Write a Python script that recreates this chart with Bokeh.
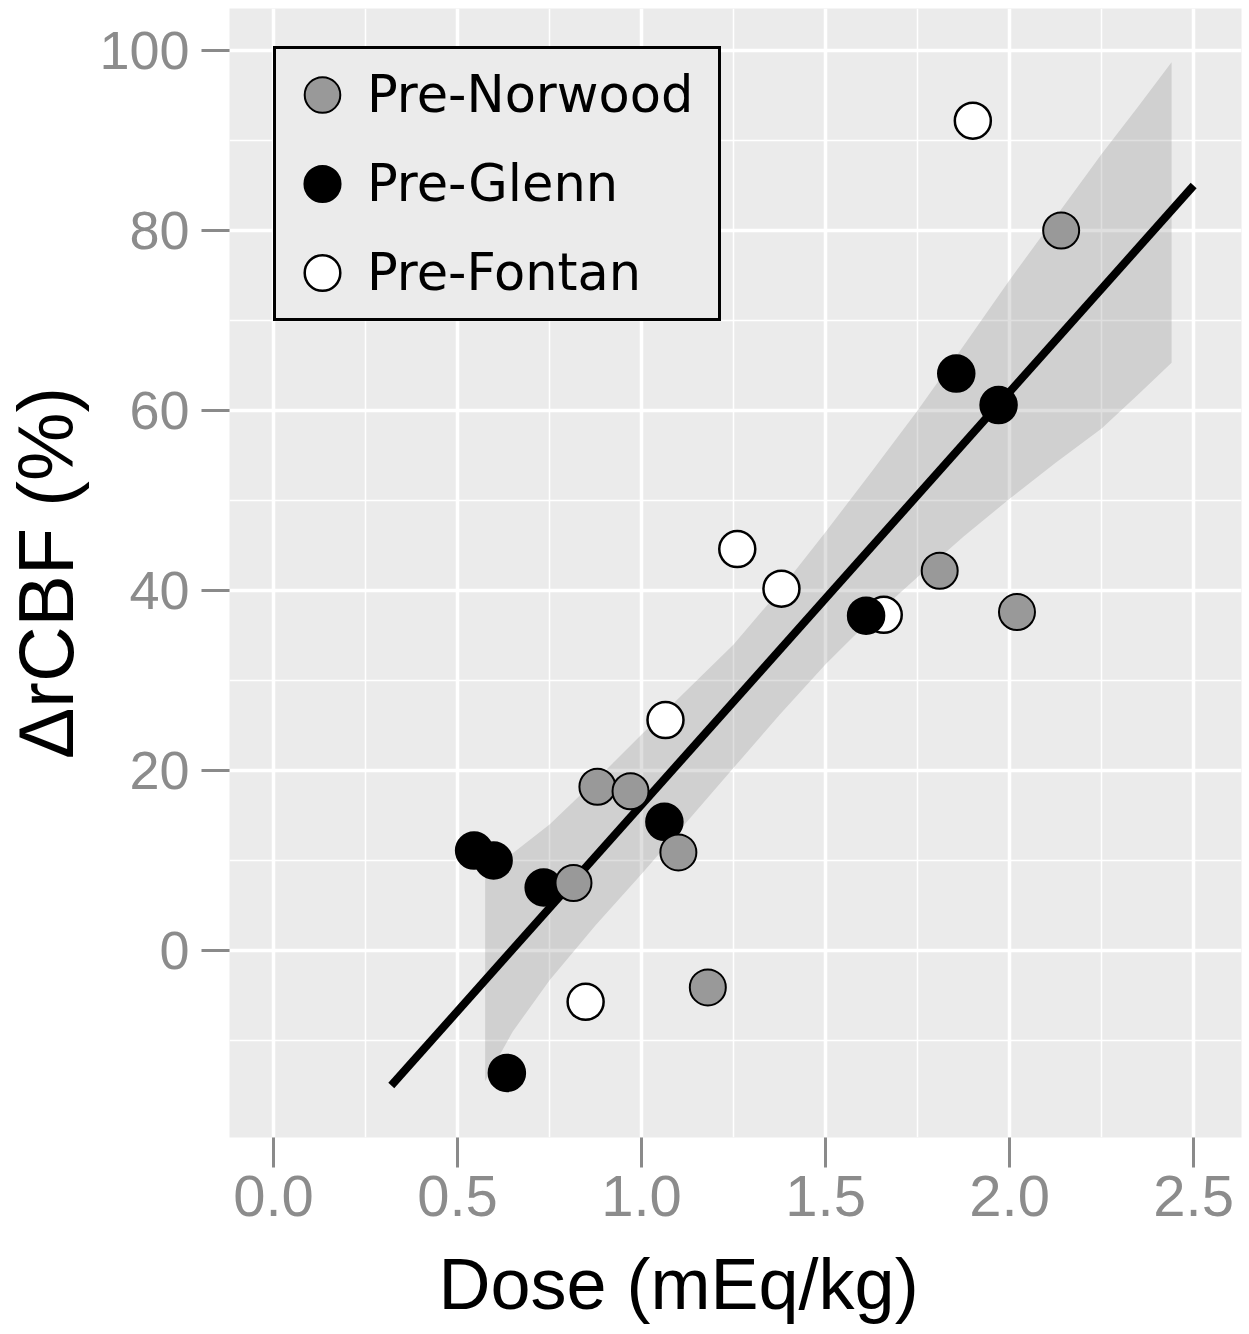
from bokeh.plotting import figure
from bokeh.models import Range1d, FixedTicker, Legend, LegendItem, Title, NumeralTickFormatter
from bokeh.embed import file_html
from bokeh.resources import INLINE

# ---- data ----
group_labels = ["Pre-Norwood", "Pre-Glenn", "Pre-Fontan"]

norwood_x = [2.14, 1.81, 2.02, 0.88, 0.97, 1.10, 0.815, 1.18]
norwood_y = [80.0, 42.2, 37.6, 18.2, 17.7, 10.9, 7.5, -4.1]

glenn_x = [1.855, 1.97, 1.61, 1.062, 0.545, 0.598, 0.734, 0.634]
glenn_y = [64.1, 60.6, 37.2, 14.3, 11.1, 10.0, 7.0, -13.6]

fontan_x = [1.90, 1.26, 1.38, 1.658, 1.065, 0.848]
fontan_y = [92.2, 44.6, 40.2, 37.3, 25.6, -5.7]

fit_x = [0.32, 2.50]
fit_y = [-15.0, 85.0]

band_x = [0.575, 0.65, 0.75, 0.875, 1.0, 1.125, 1.25, 1.375, 1.5,
          1.625, 1.75, 1.875, 2.0, 2.125, 2.25, 2.35, 2.44]
band_lower = [-14.5, -9.0, -3.3, 2.8, 8.5, 14.4, 20.3, 26.2, 31.8,
              36.9, 41.5, 46.0, 50.2, 54.2, 58.0, 61.8, 65.3]
band_upper = [8.5, 10.8, 14.0, 18.9, 24.0, 29.0, 34.0, 40.0, 46.5,
              53.2, 60.0, 67.2, 74.5, 81.5, 88.5, 93.8, 98.7]

x_ticks = [0.0, 0.5, 1.0, 1.5, 2.0, 2.5]
x_tick_labels = ["0.0", "0.5", "1.0", "1.5", "2.0", "2.5"]
x_minor = [0.25, 0.75, 1.25, 1.75, 2.25]
y_ticks = [0, 20, 40, 60, 80, 100]
y_tick_labels = ["0", "20", "40", "60", "80", "100"]
y_minor = [-10, 10, 30, 50, 70, 90]

x_title = "Dose (mEq/kg)"
y_title = "\u0394rCBF (%)"

# ---- figure ----
p = figure(frame_width=1012, frame_height=1129,
           x_range=Range1d(-0.1196, 2.630), y_range=Range1d(-20.78, 104.67),
           output_backend="svg", toolbar_location=None,
           min_border_left=228, min_border_right=9, min_border_top=8, min_border_bottom=197)
p.background_fill_color = "#EBEBEB"
p.border_fill_color = "white"
p.outline_line_color = None

xt = FixedTicker(ticks=x_ticks, minor_ticks=x_minor)
yt = FixedTicker(ticks=y_ticks, minor_ticks=y_minor)
p.xaxis.ticker = xt
p.yaxis.ticker = yt
p.xgrid.ticker = xt
p.ygrid.ticker = yt
p.xaxis.formatter = NumeralTickFormatter(format="0.0")
p.xaxis.major_label_overrides = dict(zip(x_ticks, x_tick_labels))
p.yaxis.major_label_overrides = dict(zip(y_ticks, y_tick_labels))

for g in (p.xgrid, p.ygrid):
    g.grid_line_color = "white"
    g.grid_line_width = 3.5
    g.minor_grid_line_color = "white"
    g.minor_grid_line_width = 1.5

p.axis.axis_line_color = None
p.axis.major_tick_line_color = "#8a8a8a"
p.axis.major_tick_line_width = 3
p.axis.major_tick_in = 0
p.xaxis.major_tick_out = 30
p.yaxis.major_tick_out = 28
p.axis.minor_tick_line_color = None
p.axis.major_label_text_font = "Liberation Sans"
p.xaxis.major_label_text_font_size = "58px"
p.yaxis.major_label_text_font_size = "54px"
p.axis.major_label_text_color = "#8c8c8c"
p.xaxis.major_label_standoff = 8
p.yaxis.major_label_standoff = 12

p.yaxis.axis_label = y_title
p.yaxis.axis_label_text_font = "Liberation Sans"
p.yaxis.axis_label_text_font_size = "77px"
p.yaxis.axis_label_text_font_style = "normal"
p.yaxis.axis_label_text_color = "black"
p.yaxis.axis_label_standoff = 7

xt_title = Title(text=x_title, align="left", offset=209, standoff=46,
                 text_font="Liberation Sans", text_font_size="72px",
                 text_font_style="normal", text_color="black")
p.add_layout(xt_title, "below")

# ---- glyphs ----
p.varea(x=band_x, y1=band_lower, y2=band_upper, fill_color="#808080", fill_alpha=0.25)
p.line(fit_x, fit_y, line_color="black", line_width=8, line_cap="butt")

r_f = p.scatter(fontan_x, fontan_y, size=36, fill_color="white", line_color="black", line_width=2.5)
r_g = p.scatter(glenn_x, glenn_y, size=36, fill_color="black", line_color="black", line_width=2.5)
r_n = p.scatter(norwood_x, norwood_y, size=36, fill_color="#999999", line_color="black", line_width=2)

legend = Legend(items=[LegendItem(label=group_labels[0], renderers=[r_n]),
                       LegendItem(label=group_labels[1], renderers=[r_g]),
                       LegendItem(label=group_labels[2], renderers=[r_f])],
                location=(44, 816), glyph_width=90, glyph_height=89,
                label_standoff=0, label_width=350, label_height=89,
                spacing=0, padding=1, margin=0,
                border_line_color="black", border_line_width=3, border_line_alpha=1.0,
                background_fill_color="#EBEBEB", background_fill_alpha=1.0,
                label_text_font="DejaVu Sans", label_text_font_size="51px",
                label_text_color="black")
p.add_layout(legend)

open("out.html", "w").write(file_html(p, INLINE))
